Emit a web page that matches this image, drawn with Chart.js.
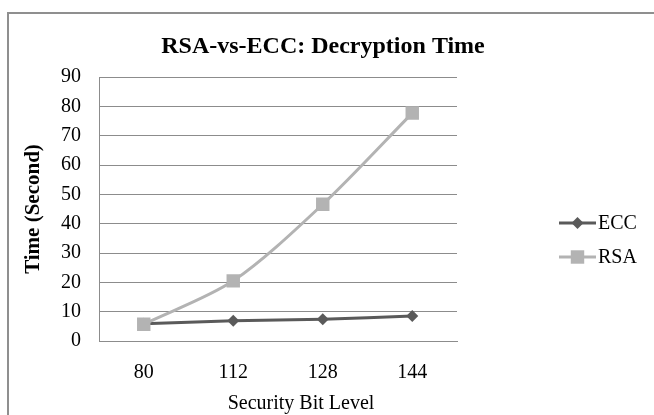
<!DOCTYPE html>
<html><head><meta charset="utf-8">
<script src="https://cdn.jsdelivr.net/npm/chart.js@4/dist/chart.umd.min.js"></script>
<style>html,body{margin:0;padding:0;background:#fff}#wrap{position:relative;width:654px;height:415px}</style>
</head><body><div id="wrap"><canvas id="c" width="654" height="415"></canvas></div>
<script>
const categories = ['80', '112', '128', '144'];
const eccValues = [5.9, 6.9, 7.4, 8.5];
const rsaValues = [5.7, 20.5, 46.6, 77.7];
const seriesNames = ['ECC', 'RSA'];
const yMin = 0, yMax = 90, yStep = 10;
const chartTitle = 'RSA-vs-ECC: Decryption Time';
const xTitle = 'Security Bit Level';
const yTitle = 'Time (Second)';

const FONT = "'Liberation Serif', 'Times New Roman', serif";
const GRID = '#8c8c8c';

const decor = {
  id: 'decor',
  beforeDraw(chart) {
    const ctx = chart.ctx;
    ctx.save();
    ctx.strokeStyle = '#8f8f8f';
    ctx.lineWidth = 2;
    ctx.beginPath();
    ctx.moveTo(8, 416);
    ctx.lineTo(8, 13);
    ctx.lineTo(656, 13);
    ctx.stroke();
    ctx.restore();
  },
  afterDraw(chart) {
    const ctx = chart.ctx;
    const area = chart.chartArea;
    ctx.save();
    ctx.fillStyle = '#000';
    ctx.textAlign = 'center';
    ctx.textBaseline = 'alphabetic';
    ctx.font = 'bold 24px ' + FONT;
    ctx.fillText(chartTitle, 323, 53);
    ctx.font = '20px ' + FONT;
    ctx.textBaseline = 'middle';
    ctx.fillText(xTitle, 301, 404);
    // legend
    chart.data.datasets.forEach((ds, i) => {
      const y = 223 + i * 34;
      ctx.strokeStyle = ds.borderColor;
      ctx.lineWidth = 3;
      ctx.beginPath();
      ctx.moveTo(559, y);
      ctx.lineTo(596, y);
      ctx.stroke();
      ctx.fillStyle = ds.backgroundColor;
      Chart.helpers.drawPoint(ctx, {pointStyle: ds.pointStyle, radius: ds.pointRadius, borderWidth: 0}, 577.5, y);
      ctx.fillStyle = '#000';
      ctx.textAlign = 'left';
      ctx.textBaseline = 'middle';
      ctx.font = '20px ' + FONT;
      ctx.fillText(ds.label, 598, y + 1);
    });
    ctx.restore();
  }
};

new Chart(document.getElementById('c'), {
  type: 'line',
  data: {
    labels: categories,
    datasets: [
      {
        label: seriesNames[0], data: eccValues,
        borderColor: '#5a5a5a', backgroundColor: '#5a5a5a',
        borderWidth: 3, pointStyle: 'rectRot', pointRadius: 6, pointBorderWidth: 0,
        tension: 0.3, order: 2
      },
      {
        label: seriesNames[1], data: rsaValues,
        borderColor: '#b3b3b3', backgroundColor: '#b3b3b3',
        borderWidth: 3, pointStyle: 'rect', pointRadius: 9.5, pointBorderWidth: 0,
        tension: 0.3, order: 1
      }
    ]
  },
  options: {
    responsive: false,
    animation: false,
    layout: { padding: { left: 8, right: 197, top: 77, bottom: 0 } },
    plugins: { legend: { display: false }, title: { display: false }, tooltip: { enabled: false } },
    scales: {
      x: {
        offset: true,
        grid: { display: false, drawTicks: false },
        border: { display: true, color: GRID, width: 1 },
        ticks: { color: '#000', font: { family: FONT, size: 20 }, padding: 20, maxRotation: 0 },
        afterFit(s) { s.height = 74; }
      },
      y: {
        min: yMin, max: yMax,
        grid: { color: GRID, drawTicks: false },
        border: { display: true, color: GRID, width: 1 },
        ticks: { stepSize: yStep, color: '#000', font: { family: FONT, size: 20 }, padding: 18 },
        title: { display: true, text: yTitle, color: '#000', font: { family: FONT, size: 21, weight: 'bold' }, padding: { top: 13, bottom: 0 } },
        afterFit(s) { s.width = 91; }
      }
    }
  },
  plugins: [decor]
});
</script>
</body></html>
